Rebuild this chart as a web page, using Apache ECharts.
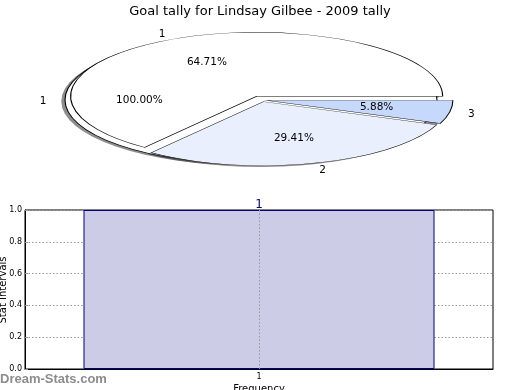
<!DOCTYPE html>
<html><head><meta charset="utf-8">
<script src="https://cdn.jsdelivr.net/npm/echarts@6/dist/echarts.min.js"></script>
<style>html,body{margin:0;padding:0;background:#fff}#c{width:520px;height:390px}</style>
</head><body><div id="c"></div>
<script>
// ---- data ----
var titleText = 'Goal tally for Lindsay Gilbee - 2009 tally';
var pieLabels = ['1', '2', '3'];
var pieValues = [11, 5, 1];
var fullPieLabels = ['1'];
var fullPieValues = [1];
var barCategories = ['1'];
var barValues = [1];
var yAxisTitle = 'Stat Intervals';
var xAxisTitle = 'Frequency';
var watermark = 'Dream-Stats.com';

// ---- layout / style ----
var PIE = { cx: 262, cy: 100, rx: 186, ry: 64 };
var pieColors = ['#ffffff', '#e9effd', '#c6d8fc'];
var fullPieColors = ['#ffffff'];
var pieExplode = [12, 5, 5];
var fullPieExplode = [11];
var FONT = 'DejaVu Sans';

function makePieRender(values, labels, colors, explode, part) {
  var total = values.reduce(function (a, b) { return a + b; }, 0);
  return function (params, api) {
    var i = params.dataIndex;
    var before = 0;
    for (var k = 0; k < i; k++) before += values[k];
    var v = api.value(0);
    var a0 = before / total * 2 * Math.PI;
    var a1 = (before + v) / total * 2 * Math.PI;
    var mid = (a0 + a1) / 2;
    var k2 = PIE.ry / PIE.rx;
    var cx = PIE.cx + Math.cos(mid) * explode[i];
    var cy = PIE.cy - Math.sin(mid) * explode[i] * k2;
    var shape = { cx: cx, cy: cy, r: PIE.rx, r0: 0, startAngle: -a1, endAngle: -a0, clockwise: true };
    if (part === 'shadow') {
      return {
        type: 'sector', shape: shape,
        x: -0.02 * PIE.rx, y: 0.02 * PIE.ry,
        scaleY: k2, originX: cx, originY: cy,
        style: { fill: 'rgba(50,50,50,0.55)', stroke: null }
      };
    }
    if (part === 'wedge') {
      return {
        type: 'sector', shape: shape,
        scaleY: k2, originX: cx, originY: cy,
        style: { fill: colors[i], stroke: '#000', lineWidth: 1.1, strokeNoScale: true }
      };
    }
    var lx = cx + Math.cos(mid) * PIE.rx * 1.1;
    var ly = cy - Math.sin(mid) * PIE.ry * 1.1;
    var px = cx + Math.cos(mid) * PIE.rx * 0.6;
    var py = cy - Math.sin(mid) * PIE.ry * 0.6;
    var pct = (v / total * 100).toFixed(2) + '%';
    return {
      type: 'group',
      children: [
        {
          type: 'text',
          style: { text: labels[i], x: lx, y: ly + 1, align: Math.cos(mid) > 0 ? 'left' : 'right', verticalAlign: 'middle',
            fill: '#000', fontSize: 10.5, fontFamily: FONT }
        },
        {
          type: 'text',
          style: { text: pct, x: px, y: py, align: 'center', verticalAlign: 'middle',
            fill: '#000', fontSize: 10.5, fontFamily: FONT }
        }
      ]
    };
  };
}

function pieSeries(values, labels, colors, explode, part, z) {
  return {
    type: 'custom', coordinateSystem: 'none', z: z, silent: true,
    data: values.map(function (v) { return [v]; }),
    renderItem: makePieRender(values, labels, colors, explode, part)
  };
}

var chart = echarts.init(document.getElementById('c'), null, { renderer: 'canvas' });
chart.setOption({
  animation: false,
  backgroundColor: '#fff',
  title: {
    text: titleText, left: 'center', top: 0,
    textStyle: { fontFamily: FONT, fontSize: 13, fontWeight: 'normal', color: '#000' }
  },
  textStyle: { fontFamily: FONT },
  graphic: [
    {
      type: 'text', left: 0, top: 373,
      style: { text: watermark, fill: '#8c8c8c', fontFamily: 'Liberation Sans', fontSize: 13, fontWeight: 'bold' }
    },
    {
      type: 'text', x: 3, y: 290, rotation: Math.PI / 2,
      style: { text: yAxisTitle, x: 0, y: 0, align: 'center', verticalAlign: 'middle',
        fill: '#000', fontFamily: FONT, fontSize: 10 }
    }
  ],
  grid: { left: 25, right: 27, top: 210, bottom: 21, outerBoundsMode: 'none', containLabel: false,
    show: true, borderColor: '#000', borderWidth: 1, backgroundColor: 'transparent' },
  xAxis: {
    type: 'category', data: barCategories,
    axisLine: { show: true, lineStyle: { color: '#000' } },
    axisTick: { show: true, alignWithLabel: true, inside: true, length: 3, lineStyle: { color: '#999' } },
    axisLabel: { fontSize: 8, margin: 4, color: '#000', fontFamily: FONT },
    splitLine: { show: false },
    name: xAxisTitle, nameLocation: 'middle', nameGap: 15,
    nameTextStyle: { fontSize: 10, color: '#000', fontFamily: FONT }
  },
  yAxis: {
    type: 'value', min: 0, max: 1, interval: 0.2,
    axisLine: { show: true, lineStyle: { color: '#000' } },
    axisTick: { show: true, inside: true, length: 3, lineStyle: { color: '#999' } },
    axisLabel: { fontSize: 8, margin: 3, color: '#000', fontFamily: FONT, formatter: function (v) { return v.toFixed(1); } },
    splitLine: { show: true, lineStyle: { color: '#999', type: [1.5, 2], width: 1 } }
  },
  series: [
    pieSeries(fullPieValues, fullPieLabels, fullPieColors, fullPieExplode, 'shadow', 1),
    pieSeries(pieValues, pieLabels, pieColors, pieExplode, 'shadow', 1),
    pieSeries(fullPieValues, fullPieLabels, fullPieColors, fullPieExplode, 'wedge', 2),
    pieSeries(pieValues, pieLabels, pieColors, pieExplode, 'wedge', 3),
    pieSeries(fullPieValues, fullPieLabels, fullPieColors, fullPieExplode, 'label', 4),
    pieSeries(pieValues, pieLabels, pieColors, pieExplode, 'label', 4),
    {
      type: 'bar', data: barValues, barWidth: '75%',
      itemStyle: { color: '#cccce6', borderColor: '#000080', borderWidth: 1 },
      label: { show: true, position: 'top', distance: -1, color: '#000080', fontSize: 12, fontFamily: FONT },
      markLine: {
        silent: true, symbol: 'none', label: { show: false },
        lineStyle: { color: '#999', type: [1.5, 2], width: 1 },
        data: [{ xAxis: barCategories[0] }]
      }
    }
  ]
});
</script>
</body></html>
